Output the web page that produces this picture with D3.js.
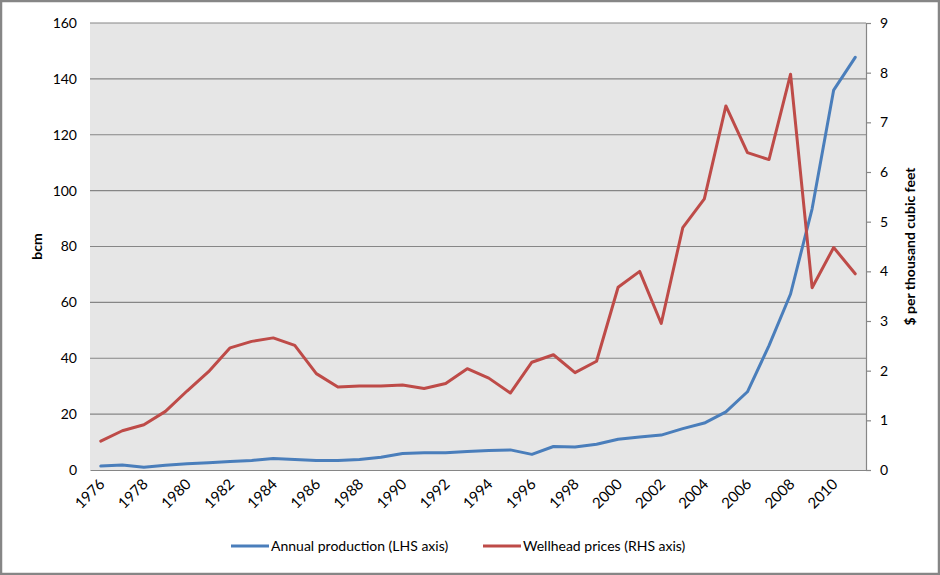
<!DOCTYPE html>
<html><head><meta charset="utf-8">
<script src="https://cdn.jsdelivr.net/npm/d3@7"></script>
<style>
html,body{margin:0;padding:0;background:#fff;}
svg{display:block;}
text{font-family:"Lato","Open Sans",sans-serif;}
</style></head>
<body>
<svg id="c" width="940" height="575"></svg>
<script>
const years = d3.range(1976, 2012);
const production = [1.4,1.8,1.0,1.7,2.2,2.6,3.0,3.4,4.1,3.8,3.4,3.4,3.8,4.6,5.9,6.2,6.2,6.6,7.0,7.2,5.6,8.4,8.2,9.2,11.0,11.8,12.5,14.8,16.8,20.8,28.0,44.5,63.0,93.5,136.0,147.7];
const prices = [0.58,0.79,0.91,1.18,1.59,1.98,2.46,2.59,2.66,2.51,1.94,1.67,1.69,1.69,1.71,1.64,1.74,2.04,1.85,1.55,2.17,2.32,1.96,2.19,3.68,4.00,2.95,4.88,5.46,7.33,6.39,6.25,7.97,3.67,4.48,3.95];
const leftTicks = [0,20,40,60,80,100,120,140,160];
const rightTicks = [0,1,2,3,4,5,6,7,8,9];
const xTickYears = years.filter(y => (y - 1976) % 2 === 0);
const seriesNames = ["Annual production (LHS axis)", "Wellhead prices (RHS axis)"];
const colors = ["#4a7ebb", "#be4b48"];

const svg = d3.select("#c");
const W = 940, H = 575;
const m = {left: 90, right: 866, top: 23, bottom: 470};

svg.append("rect").attr("x",1).attr("y",1).attr("width",W-2).attr("height",H-2)
  .attr("fill","#fff").attr("stroke","#868686").attr("stroke-width",2.5);

const x = d3.scaleBand().domain(years).range([m.left, m.right]);
const yL = d3.scaleLinear().domain([0,160]).range([m.bottom, m.top]);
const yR = d3.scaleLinear().domain([0,9]).range([m.bottom, m.top]);

svg.append("rect").attr("x",m.left).attr("y",m.top).attr("width",m.right-m.left).attr("height",m.bottom-m.top).attr("fill","#e6e6e6");

// gridlines
svg.append("g").selectAll("line").data(leftTicks.slice(1)).join("line")
  .attr("x1",m.left).attr("x2",m.right).attr("y1",d=>yL(d)).attr("y2",d=>yL(d))
  .attr("stroke","#868686").attr("stroke-width",1.2);

// left axis
const gL = svg.append("g").attr("transform",`translate(${m.left},0)`)
  .call(d3.axisLeft(yL).tickValues(leftTicks).tickSize(0).tickPadding(13));
gL.select(".domain").remove();
gL.selectAll("text").attr("font-size",14).attr("fill","#000");

// right axis
const gR = svg.append("g").attr("transform",`translate(${m.right},0)`)
  .call(d3.axisRight(yR).tickValues(rightTicks).tickSize(5).tickPadding(9));
gR.select(".domain").attr("stroke","#868686").attr("stroke-width",1.2);
gR.selectAll(".tick line").attr("stroke","#868686").attr("stroke-width",1.2);
gR.selectAll("text").attr("font-size",14).attr("fill","#000");

// bottom axis
const gB = svg.append("g").attr("transform",`translate(0,${m.bottom})`)
  .call(d3.axisBottom(x).tickValues(xTickYears).tickSize(0).tickPadding(0));
gB.select(".domain").attr("stroke","#868686").attr("stroke-width",1.2);
gB.selectAll("text").attr("font-size",15).attr("fill","#000")
  .attr("text-anchor","end").attr("dy",0)
  .attr("transform","translate(5,15) rotate(-45)");

// axis titles
svg.append("text").attr("transform",`translate(42,${(m.top+m.bottom)/2}) rotate(-90)`)
  .attr("text-anchor","middle").attr("font-size",14).attr("font-weight","bold").text("bcm");
svg.append("text").attr("transform",`translate(915,${(m.top+m.bottom)/2}) rotate(-90)`)
  .attr("text-anchor","middle").attr("font-size",14).attr("font-weight","bold").text("$ per thousand cubic feet");

const cx = d => x(d) + x.bandwidth()/2;
const lineL = d3.line().x((d,i)=>cx(years[i])).y(d=>yL(d));
const lineR = d3.line().x((d,i)=>cx(years[i])).y(d=>yR(d));

svg.append("path").attr("d",lineL(production)).attr("fill","none").attr("stroke",colors[0]).attr("stroke-width",3).attr("stroke-linejoin","round").attr("stroke-linecap","round");
svg.append("path").attr("d",lineR(prices)).attr("fill","none").attr("stroke",colors[1]).attr("stroke-width",3).attr("stroke-linejoin","round").attr("stroke-linecap","round");

// legend
const leg = [{x:231, name:seriesNames[0], c:colors[0]},{x:483, name:seriesNames[1], c:colors[1]}];
const lg = svg.append("g");
leg.forEach(l => {
  lg.append("line").attr("x1",l.x).attr("x2",l.x+38).attr("y1",546).attr("y2",546).attr("stroke",l.c).attr("stroke-width",3);
  lg.append("text").attr("x",l.x+40).attr("y",551).attr("font-size",14).attr("fill","#000").text(l.name);
});
</script>
</body></html>
